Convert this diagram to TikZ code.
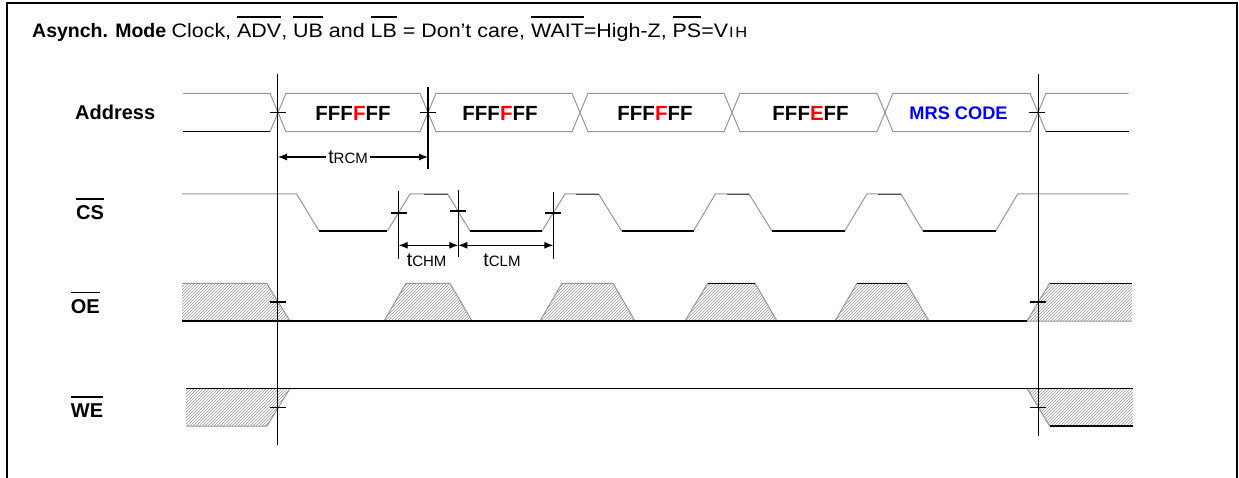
\documentclass[tikz,border=0pt]{standalone}
\usepackage{fontspec}
\setmainfont{Liberation Sans}
\usetikzlibrary{positioning, arrows.meta, patterns}

\definecolor{edgegray}{RGB}{150,150,150}
\newcommand{\ovl}[1]{\setbox0\hbox{#1}\rlap{\rule[\dimexpr\ht0+0.3em\relax]{\wd0}{1.6pt}}\box0\relax}
\newcommand{\tsub}[1]{{\fontsize{15}{17}\selectfont #1}}

\tikzset{
    sig/.style={black, line width=1.1pt},
    edge/.style={edgegray, line width=1pt},
    cursor/.style={black, line width=1.1pt},
    hatch/.style={pattern=north east lines, pattern color=edgegray},
    signame/.style={anchor=base west, inner sep=0pt, font=\fontsize{20}{24}\selectfont\bfseries},
    val/.style={anchor=base, inner sep=0pt, font=\fontsize{20.5}{24}\selectfont\bfseries},
    dim/.style={line width=1.1pt, {Latex[length=9pt,width=7pt]}-{Latex[length=9pt,width=7pt]}},
    tlabel/.style={anchor=base, inner sep=0pt, font=\fontsize{19.5}{23}\selectfont},
}

\begin{document}
\begin{tikzpicture}[x=1pt, y=-1pt]
        \useasboundingbox (0,0) rectangle (1239,478);
        \draw[line width=2pt] (6.5,478) -- (6.5,3.5) -- (1236.5,3.5) -- (1236.5,478);
        \node[anchor=base west, inner sep=0pt, font=\fontsize{19.5}{23}\selectfont] (title) at (32,37.3)
            {\textbf{Asynch. Mode} \scalebox{1.1}[1]{Clock, \ovl{ADV}, \ovl{UB} and \ovl{LB} = Don’t care, \ovl{WAIT}=High-Z, \ovl{PS}=V\kern1pt{\fontsize{15}{17}\selectfont I\kern1.5pt H}}};
        % signal names
        \node[signame] (adr) at (75,119.3) {Address};
        \node[signame] (cs) at (76,220) {\ovl{CS}};
        \node[signame] (oe) at (70.7,313.3) {\ovl{OE}};
        \node[signame] (we) at (70.7,417.7) {\ovl{WE}};
        % address bus
        \draw[edge] (183,93.3) -- (270,93.3) -- (278,112.5) -- (270,131.7);
        \draw[sig] (183,131.7) -- (270,131.7);
        \foreach \a/\b in {278/428, 428/580, 580/732, 732/885, 885/1038}
            \draw[edge] (\a,112.5) -- (\a+8,93.3) -- (\b-8,93.3) -- (\b,112.5) -- (\b-8,131.7) -- (\a+8,131.7) -- cycle;
        \draw[edge] (1128.5,93.3) -- (1046,93.3) -- (1038,112.5) -- (1046,131.7);
        \draw[sig] (1046,131.7) -- (1128.5,131.7);
        \node[val] (adr1) at (353,120.7) {FFF\textcolor{red}{F}FF};
        \node[val] (adr2) at (500,120.7) {FFF\textcolor{red}{F}FF};
        \node[val] (adr3) at (655,120.7) {FFF\textcolor{red}{F}FF};
        \node[val] (adr4) at (810.6,120.7) {FFF\textcolor{red}{E}FF};
        \node[val, font=\fontsize{18.2}{22}\selectfont\bfseries, text=blue] (adr5) at (958.5,119.3) {MRS CODE};
        % CS
        \draw[edge] (182,194) -- (296.7,194) -- (319,231) -- (387.3,231) -- (410,194) -- (447.7,194) -- (470,231)
            -- (542,231) -- (565,194) -- (598.6,194) -- (621.6,231) -- (693.5,231) -- (715.3,194) -- (749,194)
            -- (772,231) -- (844.7,231) -- (866.9,194) -- (901,194) -- (923,231) -- (995.8,231) -- (1017.7,194) -- (1128.6,194);
        \foreach \a/\b in {319/387.3, 470/542, 621.6/693.5, 772/844.7, 923/995.8}
            \draw[sig] (\a,231) -- (\b,231);
        \foreach \a/\b in {424/447.7, 576/598.6, 727/749, 878/901}
            \draw[black!70, line width=0.8pt] (\a,194) -- (\b,194);
        % OE
        \path[hatch] (182,283.3) -- (266.7,283.3) -- (290,321) -- (182,321) -- cycle;
        \draw[edge] (182,283.3) -- (266.7,283.3) -- (290,321);
        \foreach \a/\b/\c/\d in {384/406/450/472, 540/562/613/635, 685/707.6/755/777, 835/857/906.6/929}{
            \path[hatch] (\a,321) -- (\b,283.3) -- (\c,283.3) -- (\d,321) -- cycle;
            \draw[edge] (\a,321) -- (\b,283.3) -- (\c,283.3) -- (\d,321);
        }
        \draw[sig] (707.6,283.3) -- (755,283.3);
        \draw[sig] (857,283.3) -- (906.6,283.3);
        \path[hatch] (1027,321) -- (1049.5,283.3) -- (1132,283.3) -- (1132,321) -- cycle;
        \draw[edge] (1132,321) -- (1027,321) -- (1049.5,283.3);
        \draw[sig] (1049.5,283.3) -- (1132,283.3);
        \draw[sig] (182,321) -- (1027,321);
        % WE
        \path[hatch] (186,388.3) -- (290,388.3) -- (267,426) -- (186,426) -- cycle;
        \draw[edge] (290,388.3) -- (267,426) -- (186,426);
        \path[hatch] (1027,388.3) -- (1133,388.3) -- (1133,426) -- (1049.5,426) -- cycle;
        \draw[edge] (1027,388.3) -- (1049.5,426);
        \draw[sig] (1049.5,426) -- (1133,426);
        \draw[sig] (186,388.3) -- (1133,388.3);
        % cursors and ticks
        \draw[cursor] (277.5,74) -- (277.5,445);
        \draw[cursor] (428,87) -- (428,169);
        \draw[cursor] (1038.4,74) -- (1038.4,436);
        \foreach \x/\y in {277.5/112.5, 428/112.5, 1036.5/112.5, 398.7/213, 458.3/211, 553.3/213,
                           277.5/302, 1037.6/302, 277.5/407.3, 1037.6/407.3}
            \draw[cursor] (\x-8,\y) -- (\x+8,\y);
        \draw[cursor] (398.7,191) -- (398.7,259);
        \draw[cursor] (458.3,190) -- (458.3,257);
        \draw[cursor] (553.3,192) -- (553.3,259);
        % timing parameters
        \coordinate (rcmA) at (278,157);
        \coordinate (rcmB) at (428,157);
        \draw[dim] (rcmA) -- node[pos=0.467, fill=white, inner sep=2pt, font=\fontsize{19.5}{23}\selectfont] (trcm) {t\tsub{RCM}} (rcmB);
        \coordinate (chmA) at (398.7,245.3);
        \coordinate (chmB) at (458.3,245.3);
        \coordinate (clmB) at (553.3,245.3);
        \draw[dim] (chmA) -- (chmB);
        \draw[dim] (chmB) -- (clmB);
        \node[tlabel] (tchm) at (426.7,266.7) {t\tsub{CHM}};
        \node[tlabel] (tclm) at (502,266.7) {t\tsub{CLM}};
\end{tikzpicture}
\end{document}
